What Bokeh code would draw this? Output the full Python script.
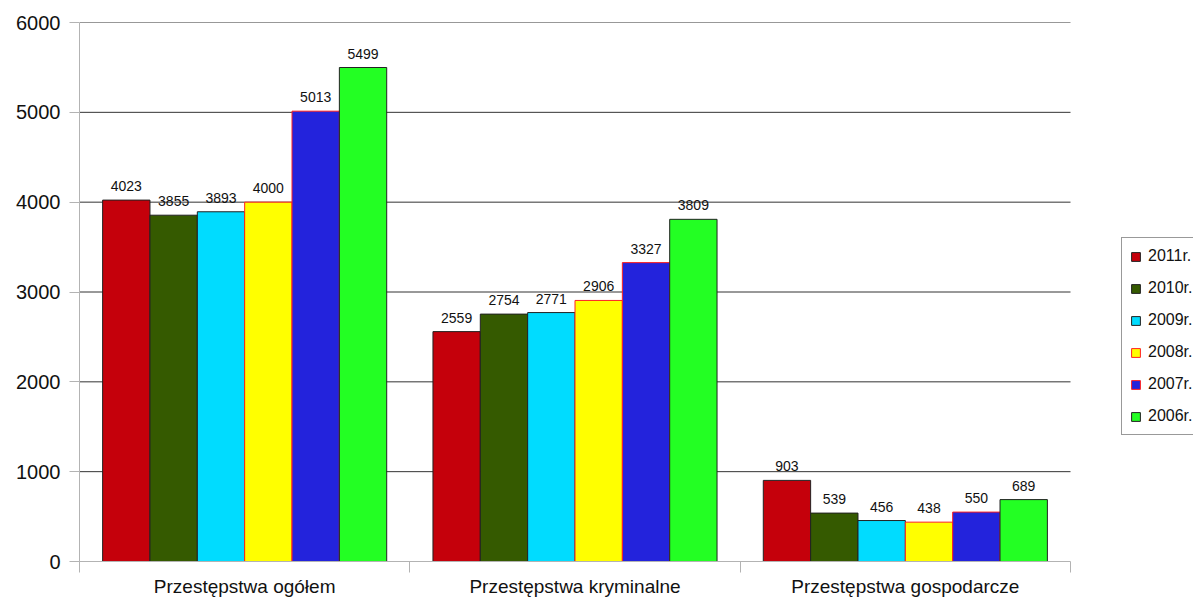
from bokeh.plotting import figure
from bokeh.models import (ColumnDataSource, Range1d, FixedTicker, Legend, LegendItem,
                          LabelSet)
from bokeh.core.properties import value
from bokeh.embed import file_html
from bokeh.resources import INLINE

categories = ["Przestępstwa ogółem", "Przestępstwa kryminalne", "Przestępstwa gospodarcze"]
years = ["2011r.", "2010r.", "2009r.", "2008r.", "2007r.", "2006r."]
v2011 = [4023, 2559, 903]
v2010 = [3855, 2754, 539]
v2009 = [3893, 2771, 456]
v2008 = [4000, 2906, 438]
v2007 = [5013, 3327, 550]
v2006 = [5499, 3809, 689]
y_ticks = [0, 1000, 2000, 3000, 4000, 5000, 6000]

series = [v2011, v2010, v2009, v2008, v2007, v2006]
fills = ["#C5000B", "#355A00", "#00DCFF", "#FFFF00", "#2323DC", "#23FF23"]
lines = ["#222222", "#222222", "#222222", "#FF2020", "#FF2020", "#222222"]

FONT = "Liberation Sans"

W, H = 1193, 599
LEFT, PLOT_RIGHT = 79, 1070
ncat = len(categories)
unit_px = (PLOT_RIGHT - LEFT) / ncat
x_end = ncat + (W - PLOT_RIGHT) / unit_px  # extra room on the right for the legend

p = figure(width=W, height=H, output_backend="svg", toolbar_location=None,
           x_range=Range1d(0, x_end), y_range=Range1d(0, 6000),
           min_border_left=LEFT, min_border_right=0, min_border_top=22,
           min_border_bottom=35)
p.outline_line_color = None
p.background_fill_color = "white"
p.border_fill_color = "white"

# horizontal grid lines, limited to the category area
p.segment(x0=[0] * (len(y_ticks) - 1), x1=[ncat] * (len(y_ticks) - 1),
          y0=y_ticks[1:], y1=y_ticks[1:], line_color="#333333", line_width=1)

group_w = 0.86
bar_w = group_w / len(years)
items = []
for i, (vals, fc, lc) in enumerate(zip(series, fills, lines)):
    xs = [k + 0.5 - group_w / 2 + bar_w * (i + 0.5) for k in range(ncat)]
    src = ColumnDataSource(dict(x=xs, top=vals, lbl=[str(v) for v in vals]))
    r = p.vbar(x="x", top="top", width=bar_w, source=src, fill_color=fc,
               line_color=lc, line_width=1)
    items.append(LegendItem(label=years[i], renderers=[r]))
    p.add_layout(LabelSet(x="x", y="top", text="lbl", source=src, text_align="center",
                          text_baseline="bottom", y_offset=9, text_font=value(FONT),
                          text_font_size="14px", text_color="#111111"))

# y axis
p.yaxis.ticker = FixedTicker(ticks=y_ticks, minor_ticks=[])
p.yaxis.axis_line_color = "#b3b3b3"
p.yaxis.major_tick_line_color = "#b3b3b3"
p.yaxis.major_tick_out = 10
p.yaxis.major_tick_in = 0
p.yaxis.major_label_standoff = 9
p.yaxis.major_label_text_font = FONT
p.yaxis.major_label_text_font_size = "20px"
p.yaxis.major_label_text_color = "#111111"

# x axis: labels at category centres, ticks at boundaries
centers = [k + 0.5 for k in range(ncat)]
bounds = [k for k in range(ncat + 1)]
p.xaxis.ticker = FixedTicker(ticks=centers, minor_ticks=bounds)
p.xaxis.bounds = (0, ncat)
p.xaxis.major_label_overrides = {c: name for c, name in zip(centers, categories)}
p.xaxis.major_tick_line_color = None
p.xaxis.minor_tick_line_color = "#b3b3b3"
p.xaxis.minor_tick_out = 11
p.xaxis.minor_tick_in = 0
p.xaxis.axis_line_color = "#b3b3b3"
p.xaxis.major_label_standoff = 3
p.xaxis.major_label_text_font = FONT
p.xaxis.major_label_text_font_size = "19px"
p.xaxis.major_label_text_color = "#111111"

p.xgrid.grid_line_color = None
p.ygrid.grid_line_color = None

legend = Legend(items=items, location=(1042, 126), margin=0, padding=8,
                spacing=12, glyph_width=11, glyph_height=11, label_height=20,
                label_standoff=7, label_text_font=FONT, label_text_font_size="16px",
                label_text_color="#111111", border_line_color="#333333",
                border_line_width=1, background_fill_color="white",
                background_fill_alpha=1.0)
p.add_layout(legend, "center")

open("out.html", "w").write(file_html(p, INLINE))
